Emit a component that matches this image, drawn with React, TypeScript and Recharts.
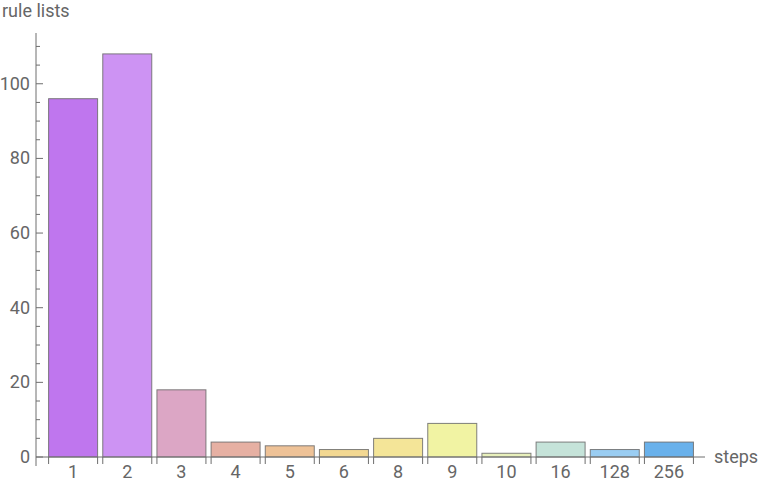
import { BarChart, Bar, XAxis, YAxis, Cell } from "recharts"

const steps = ["1", "2", "3", "4", "5", "6", "8", "9", "10", "16", "128", "256"]
const ruleLists = [96, 108, 18, 4, 3, 2, 5, 9, 1, 4, 2, 4]
const barColors = [
  "#bf76ee",
  "#cd93f3",
  "#dca6c5",
  "#e6b0a3",
  "#eec297",
  "#f3d892",
  "#f4e598",
  "#f1f3a3",
  "#e8f0bb",
  "#c5e3d9",
  "#9acdf2",
  "#69b1eb",
]
const yTicks = [0, 5, 10, 15, 20, 25, 30, 35, 40, 45, 50, 55, 60, 65, 70, 75, 80, 85, 90, 95, 100, 105, 110]

const data = steps.map((s, i) => ({ steps: s, count: ruleLists[i] }))

const axisColor = "#6e6e6e"
const textColor = "#666666"
const font = "Roboto, sans-serif"
const fontSize = 18

function YTick(props: any) {
  const { x, y, payload } = props
  const major = payload.value % 20 === 0
  return (
    <g>
      <line x1={x} x2={x + (major ? 7 : 4)} y1={y} y2={y} stroke={axisColor} strokeWidth={1} />
      {payload.value === 0 && <line x1={x} x2={x} y1={y} y2={y + 9} stroke={axisColor} strokeWidth={1} />}
      {major && (
        <text x={x - 6} y={y} dy={6} textAnchor="end" fill={textColor} fontSize={fontSize} fontFamily={font}>
          {payload.value}
        </text>
      )}
    </g>
  )
}

function XTick(props: any) {
  const { x, payload } = props
  // baseline sits ~21px under the x axis
  return (
    <text x={x} y={478} textAnchor="middle" fill={textColor} fontSize={fontSize} fontFamily={font}>
      {payload.value}
    </text>
  )
}

function BarShape(props: any) {
  const { x, y, width, height, fill } = props
  const bottom = y + height
  return (
    <g>
      <rect x={x} y={y} width={width} height={height} fill={fill} stroke="#6a6a6a" strokeOpacity={0.85} strokeWidth={1} />
      <line x1={x} x2={x} y1={bottom} y2={bottom + 7} stroke={axisColor} strokeWidth={1} />
      <line x1={x + width} x2={x + width} y1={bottom} y2={bottom + 7} stroke={axisColor} strokeWidth={1} />
    </g>
  )
}

export default function App() {
  return (
    <div style={{ position: "absolute", left: 0, top: 0, width: 760, height: 485, background: "#fff" }}>
      <BarChart
        width={760}
        height={485}
        data={data}
        margin={{ top: 33, right: 55, left: 0, bottom: 0 }}
        barCategoryGap={2.6}
      >
        <XAxis
          dataKey="steps"
          padding={{ left: 10, right: 9 }}
          axisLine={{ stroke: axisColor }}
          tickLine={false}
          tick={<XTick />}
          interval={0}
          height={28}
        />
        <YAxis
          width={36}
          domain={[0, 113.6]}
          ticks={yTicks}
          interval={0}
          axisLine={{ stroke: axisColor }}
          tickLine={false}
          tickSize={0}
          tickMargin={0}
          tick={<YTick />}
        />
        <Bar dataKey="count" isAnimationActive={false} shape={<BarShape />}>
          {data.map((d, i) => (
            <Cell key={d.steps} fill={barColors[i]} />
          ))}
        </Bar>
      </BarChart>
      <div style={{ position: "absolute", left: 2, top: 0, fontFamily: font, fontSize, color: textColor }}>
        rule lists
      </div>
      <div style={{ position: "absolute", left: 714, top: 446, fontFamily: font, fontSize, color: textColor }}>
        steps
      </div>
    </div>
  )
}
